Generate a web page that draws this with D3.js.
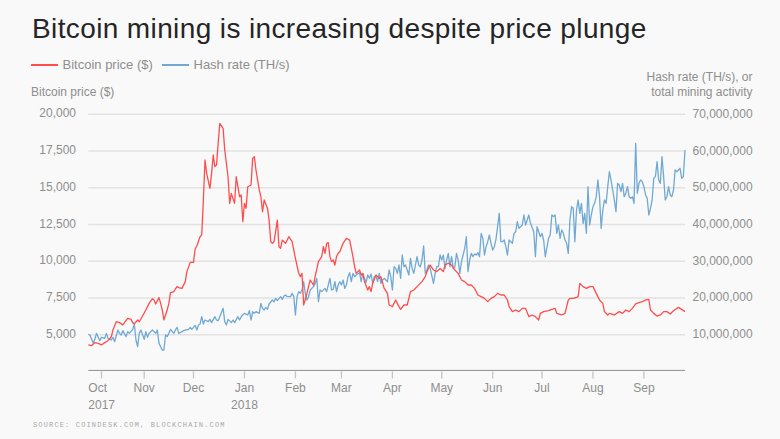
<!DOCTYPE html>
<html>
<head>
<meta charset="utf-8">
<script src="https://cdn.jsdelivr.net/npm/d3@7"></script>
<style>
  html, body { margin: 0; padding: 0; background: #f9f9f9; }
  svg { display: block; font-family: "Liberation Sans", Arial, Helvetica, sans-serif; }
</style>
</head>
<body>
<svg id="chart" width="780" height="439"></svg>
<script>
// ---------------- DATA ----------------
const titleText = "Bitcoin mining is increasing despite price plunge";
const sourceText = "SOURCE: COINDESK.COM, BLOCKCHAIN.COM";
const seriesNames = ["Bitcoin price ($)", "Hash rate (TH/s)"];
const leftAxisTitle = ["Bitcoin price ($)"];
const rightAxisTitle = ["Hash rate (TH/s), or", "total mining activity"];

// days are counted from this date
const startDate = "2017-09-28";
const endDay = 363;

// Bitcoin price (USD)
const priceDays = [0,2,4,6,8,10,12,14,15,17,19,21,22,24,26,27,28,30,31,33,35,37,39,40,41,43,44,45,46,48,49,50,52,53,54,55,57,59,60,62,64,65,66,68,69,70,71,72,74,75,76,77,78,79,80,82,83,85,86,87,89,90,92,93,94,95,96,97,99,100,101,102,104,105,106,107,109,110,111,112,113,115,116,117,118,120,122,124,126,128,129,130,131,133,134,135,137,138,140,142,143,144,145,146,147,148,149,150,151,152,153,155,157,159,161,162,163,165,166,167,168,170,171,172,173,175,177,178,180,182,183,185,187,189,190,192,194,196,198,200,203,205,206,208,210,212,214,216,217,219,221,223,225,227,229,231,233,235,237,239,241,243,245,247,249,251,253,255,256,258,260,262,264,266,268,270,272,274,275,277,280,282,284,285,288,290,292,293,295,297,298,299,301,303,305,307,309,311,313,314,316,317,320,323,325,327,329,331,333,335,337,339,341,342,344,346,348,350,352,354,356,359,361,363];
const priceValues = [4300,4250,4460,4410,4300,4460,4590,4860,5320,5880,5820,5660,5820,6110,6040,5820,5730,6000,5880,6270,6680,7130,7450,7360,7090,7520,7130,6680,6000,6680,7130,7860,7930,8110,8270,8200,8150,8610,9290,9920,9920,10830,11040,11670,11780,14170,16890,15980,14960,15980,17230,16440,16550,18020,19380,19040,17570,15750,13940,14620,13940,15750,14390,14510,12690,13940,13600,15070,15190,17000,17110,16210,14850,14390,13370,14170,13600,12800,11330,11220,11330,12800,10990,10880,11440,11220,11670,11330,10200,9180,8950,9170,7020,7810,8270,8720,8380,8950,9970,10310,10990,10540,11220,11260,10310,9970,10080,9740,10310,10540,10650,11220,11560,11440,10310,9630,9170,9400,9060,9170,8610,8040,8270,7930,8490,9060,8830,8950,8150,7810,7020,6910,7360,6910,6720,7020,7020,7930,8040,8270,8610,8950,9290,9740,9400,9290,9510,9290,9740,9860,9740,9400,9170,8720,8610,8380,8380,8150,7700,7590,7470,7250,7470,7590,7810,7700,7700,7360,6910,6570,6680,6570,6790,6790,6230,6340,6230,6000,6450,6570,6630,6720,6790,6450,6340,6450,7360,7470,7470,7540,7590,8490,8270,8150,8270,8270,7810,7360,7130,6570,6340,6450,6340,6570,6450,6680,6570,6790,7090,7180,7250,7360,7400,6680,6450,6270,6340,6570,6570,6410,6630,6860,6720,6570];

// Hash rate (millions of TH/s)
const hashDays = [0,1,3,4,5,7,8,10,11,12,14,15,16,18,19,20,21,23,24,25,27,28,29,30,31,32,34,35,36,37,39,41,42,43,45,46,47,48,49,50,52,53,54,55,57,58,59,61,62,63,65,66,67,68,69,70,71,73,74,75,77,78,79,80,82,83,84,85,87,88,89,91,92,93,94,95,97,98,99,100,101,102,104,105,106,107,108,109,110,112,113,114,115,117,118,119,120,121,123,124,125,126,127,128,129,130,131,132,133,134,135,137,138,139,140,141,142,144,145,146,147,148,149,150,151,152,153,154,155,156,157,158,159,160,161,162,163,165,166,167,168,169,170,171,172,173,174,175,176,177,178,179,180,182,183,184,185,186,187,188,189,190,191,192,193,194,195,196,197,198,200,201,202,203,204,205,206,207,208,210,211,212,213,214,215,216,217,218,219,220,221,222,223,224,225,226,227,228,229,230,231,232,233,234,235,236,237,238,239,240,241,242,243,244,245,246,247,248,249,250,251,252,253,254,255,256,257,258,259,260,261,262,264,265,266,267,268,269,271,272,273,274,275,276,277,278,280,281,282,283,284,285,286,287,288,289,290,291,292,293,294,295,296,297,298,299,300,301,302,303,304,305,306,307,308,309,310,311,312,313,314,315,316,317,318,319,320,321,322,323,324,325,326,327,328,329,330,331,332,333,334,335,336,337,338,339,340,341,342,343,344,345,346,347,348,349,350,351,352,353,354,355,356,357,358,359,360,361,362,363];
const hashValues = [10.09,9.91,7.64,8.73,10.36,8.37,9.28,9.00,10.36,9.00,8.55,9.28,8.10,11.27,10.36,9.91,11.09,9.46,10.82,10.36,11.45,12.90,8.55,6.73,10.36,11.27,8.73,10.82,9.28,10.36,11.27,10.36,11.27,7.64,5.82,5.82,9.91,9.46,10.36,11.45,10.36,11.27,12.00,10.36,10.82,11.09,11.27,11.45,12.00,11.45,12.54,11.27,12.63,12.90,14.90,12.90,13.99,13.54,14.17,13.27,14.90,13.99,13.81,14.90,17.17,13.54,12.63,14.17,13.27,13.99,13.27,14.90,13.99,14.90,15.35,15.81,15.35,16.53,13.99,16.26,15.81,16.26,15.81,18.53,17.17,16.72,17.44,16.90,18.35,19.44,18.98,19.89,19.26,20.35,19.62,20.53,20.80,20.35,20.35,21.25,20.35,15.35,20.35,21.71,21.25,22.16,24.43,21.25,19.44,20.35,22.16,23.07,23.97,25.34,18.98,22.16,21.71,22.61,21.71,23.52,25.34,22.16,22.34,24.43,21.71,23.52,24.43,23.52,24.88,22.61,23.52,25.79,26.88,24.43,26.70,25.79,26.25,26.88,24.43,26.70,25.34,24.16,26.25,25.34,26.52,23.97,25.79,25.97,24.43,26.70,23.97,24.88,25.34,24.43,27.61,25.79,22.16,28.51,28.06,26.70,28.97,25.34,31.69,28.51,28.97,27.61,26.25,30.78,28.06,26.70,31.24,28.97,28.51,30.33,34.14,26.70,27.61,28.97,28.06,23.97,26.70,28.51,28.51,31.69,30.33,31.69,28.06,30.33,32.14,28.51,31.24,28.06,28.51,32.14,30.33,26.70,29.87,31.69,33.50,36.68,27.15,30.33,32.14,31.24,31.96,31.69,32.33,31.24,37.59,36.23,31.69,33.96,35.32,37.13,34.87,33.05,33.96,35.96,39.40,43.03,35.32,35.32,35.77,33.96,31.69,35.77,35.32,34.87,37.59,38.04,40.77,38.95,39.86,42.58,39.86,41.22,42.58,40.31,38.04,31.24,39.40,38.04,36.68,37.59,35.77,31.24,36.23,37.13,42.58,42.13,42.58,37.59,39.86,36.23,38.50,37.59,35.77,34.87,32.14,41.22,44.85,44.40,35.32,43.94,46.66,43.03,45.76,40.31,43.03,37.59,50.29,39.86,42.58,44.85,45.76,47.57,52.11,47.57,38.95,43.94,46.66,45.76,50.29,54.38,52.11,49.39,46.66,43.49,51.20,50.75,48.93,51.20,47.57,48.48,50.29,47.57,47.12,47.57,45.76,62.09,48.48,51.20,52.11,51.66,50.29,48.03,47.12,42.58,44.40,46.66,52.56,53.02,57.10,52.11,51.20,58.46,53.02,46.66,47.57,50.29,48.03,47.57,49.39,54.83,54.38,54.83,55.29,52.56,53.02,60.28];

// axis ticks
const priceTicks = [5000, 7500, 10000, 12500, 15000, 17500, 20000];
const hashTicks = [10, 20, 30, 40, 50, 60, 70]; // millions
const monthTicks = ["2017-10-06","2017-11-01","2017-12-01","2018-01-01","2018-02-01","2018-03-01","2018-04-01","2018-05-01","2018-06-01","2018-07-01","2018-08-01","2018-09-01"];
const monthLabels = ["Oct","Nov","Dec","Jan","Feb","Mar","Apr","May","Jun","Jul","Aug","Sep"];
const yearLabels = ["2017","","","2018","","","","","","","",""];

// ---------------- CHART ----------------
const W = 780, H = 439;
const m = { left: 88.3, right: 685, top: 114.3, bottom: 371.4 };
const colors = { price: "#ff4d4d", hash: "#70a9d3", grid: "#e2e2e2", axis: "#8f8f8f", tick: "#c4c4c4", text: "#8e8e8e", title: "#252525" };

const parse = d3.timeParse("%Y-%m-%d");
const t0 = parse(startDate);
const toDate = d => d3.timeDay.offset(t0, d);

const x = d3.scaleTime().domain([t0, toDate(endDay)]).range([m.left, m.right]);
const yL = d3.scaleLinear().domain([2500, 20000]).range([m.bottom, m.top]);
const yR = d3.scaleLinear().domain([0, 70]).range([m.bottom, m.top]);

const svg = d3.select("#chart");
svg.append("rect").attr("width", W).attr("height", H).attr("fill", "#f9f9f9");

// title
svg.append("text").attr("x", 32).attr("y", 37.5)
  .attr("font-size", 28).attr("letter-spacing", 0.38).attr("fill", colors.title).text(titleText);

// legend
const legend = svg.append("g").attr("font-size", 13).attr("fill", colors.text);
const legItems = [{ name: seriesNames[0], c: colors.price, x: 31, w: 27 }, { name: seriesNames[1], c: colors.hash, x: 162, w: 27 }];
legItems.forEach(it => {
  legend.append("line").attr("x1", it.x).attr("x2", it.x + it.w).attr("y1", 65).attr("y2", 65)
    .attr("stroke", it.c).attr("stroke-width", 2);
  legend.append("text").attr("x", it.x + it.w + 4.5).attr("y", 68.5).text(it.name);
});

// axis titles
svg.append("text").attr("x", 31).attr("y", 96.3).attr("font-size", 12).attr("fill", colors.text).text(leftAxisTitle[0]);
svg.append("text").attr("x", 752.5).attr("y", 81).attr("text-anchor", "end").attr("font-size", 12).attr("fill", colors.text)
  .selectAll("tspan").data(rightAxisTitle).join("tspan")
  .attr("x", 752.5).attr("dy", (d, i) => i === 0 ? 0 : 15).text(d => d);

// gridlines
svg.append("g").selectAll("line").data(priceTicks).join("line")
  .attr("x1", m.left).attr("x2", m.right)
  .attr("y1", d => yL(d)).attr("y2", d => yL(d))
  .attr("stroke", colors.grid).attr("stroke-width", 1.5);

// left axis
const leftAxis = d3.axisLeft(yL).tickValues(priceTicks).tickSize(0).tickPadding(0).tickFormat(d3.format(","));
const gL = svg.append("g").attr("transform", "translate(76,0)").call(leftAxis);
gL.select(".domain").remove();
gL.selectAll("text").attr("font-size", 12).attr("fill", colors.text).attr("font-family", null).attr("dy", "0.22em");

// right axis
const rightAxis = d3.axisRight(yR).tickValues(hashTicks).tickSize(0).tickPadding(0).tickFormat(d => d3.format(",")(d * 1e6));
const gR = svg.append("g").attr("transform", "translate(692.5,0)").call(rightAxis);
gR.select(".domain").remove();
gR.selectAll("text").attr("font-size", 12).attr("fill", colors.text).attr("font-family", null).attr("dy", "0.25em");

// bottom axis
const gB = svg.append("g").attr("transform", `translate(0,${m.bottom - 1})`);
gB.append("line").attr("x1", m.left).attr("x2", m.right).attr("stroke", colors.axis).attr("stroke-width", 1);
const ticks = gB.selectAll("g.tick").data(monthTicks.map(parse)).join("g").attr("class", "tick")
  .attr("transform", d => `translate(${x(d)},0)`);
ticks.append("line").attr("y1", 1).attr("y2", 8).attr("stroke", colors.tick).attr("stroke-width", 1.3);
ticks.append("text").attr("y", 22).attr("font-size", 12).attr("fill", colors.text)
  .attr("text-anchor", (d, i) => i === 0 ? "start" : "middle")
  .attr("x", (d, i) => i === 0 ? m.left - x(d) : 0)
  .text((d, i) => monthLabels[i]);
ticks.append("text").attr("y", 38.5).attr("font-size", 12).attr("fill", colors.text)
  .attr("text-anchor", (d, i) => i === 0 ? "start" : "middle")
  .attr("x", (d, i) => i === 0 ? m.left - x(d) : 0)
  .text((d, i) => yearLabels[i]);

// lines
const hashData = hashDays.map((d, i) => ({ date: toDate(d), v: hashValues[i] }));
const priceData = priceDays.map((d, i) => ({ date: toDate(d), v: priceValues[i] }));

svg.append("path").datum(hashData)
  .attr("fill", "none").attr("stroke", colors.hash).attr("stroke-width", 1.3).attr("stroke-linejoin", "round")
  .attr("d", d3.line().x(d => x(d.date)).y(d => yR(d.v)));
svg.append("path").datum(priceData)
  .attr("fill", "none").attr("stroke", colors.price).attr("stroke-width", 1.3).attr("stroke-linejoin", "round")
  .attr("d", d3.line().x(d => x(d.date)).y(d => yL(d.v)));

// source
svg.append("text").attr("x", 33).attr("y", 427).attr("font-size", 7)
  .attr("font-family", "'Liberation Mono', 'DejaVu Sans Mono', monospace")
  .attr("letter-spacing", 1.15).attr("fill", "#a8a8a8").text(sourceText);
</script>
</body>
</html>
